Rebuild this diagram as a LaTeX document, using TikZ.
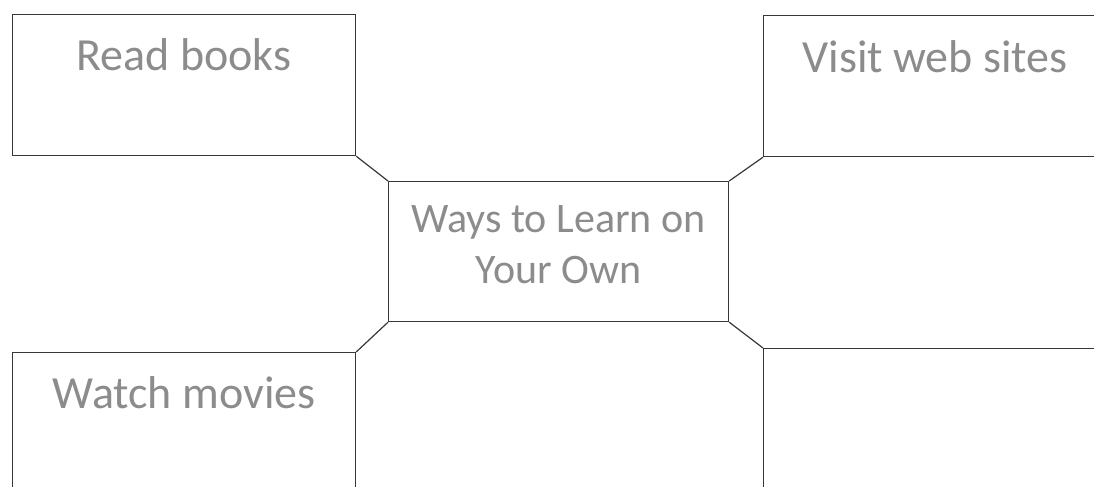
\documentclass[tikz,border=0pt]{standalone}
\usepackage{fontspec}
\setmainfont{Carlito}
\usetikzlibrary{positioning}
\definecolor{inkgray}{RGB}{140,140,140}
\definecolor{linegray}{RGB}{55,55,55}

\begin{document}
\begin{tikzpicture}[x=0.5pt, y=-0.5pt,
        box/.style={rectangle, draw=linegray, line width=0.6pt, minimum width=171.5pt, inner sep=0pt, anchor=north west, align=center, text=inkgray, font=\fontsize{23}{28}\selectfont},
        link/.style={draw=linegray, line width=0.6pt}
    ]
        \useasboundingbox (0,0) rectangle (1094,487);
        \clip (0,0) rectangle (1094,487);

        % Outer boxes
        \node[box, text height=28pt, text depth=42.5pt] (books) at (12,14) {Read books};
        \node[box, text height=28.5pt, text depth=42pt] (sites) at (763,15) {Visit web sites};
        \node[box, text height=28pt, text depth=42.5pt] (movies) at (12,352) {Watch movies};
        \node[box, text height=28pt, text depth=42.5pt] (blank) at (763,348) {};

        % Centre box
        \node[box, minimum width=170pt, text height=51pt, text depth=19pt, font=\fontsize{21}{25.5}\selectfont] (ways) at (388,181) {Ways to Learn on\\Your Own};

        % Links
        \draw[link] (books.south east) -- (ways.north west);
        \draw[link] (sites.south west) -- (ways.north east);
        \draw[link] (ways.south west) -- (movies.north east);
        \draw[link] (ways.south east) -- (blank.north west);

    \end{tikzpicture}
\end{document}
